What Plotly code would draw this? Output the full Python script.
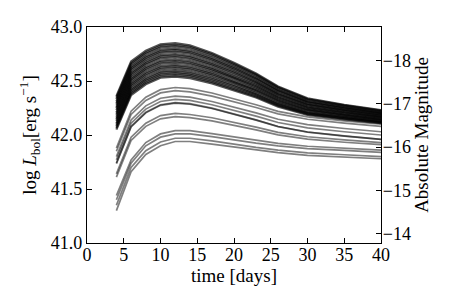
import plotly.graph_objects as go

# time grid [days]
TIME = [4, 6, 8, 10, 12, 14, 17, 20, 23, 26, 30, 35, 40]

# log L_bol light curves, bright (dense) group
BRIGHT = [
    [42.36, 42.68, 42.78, 42.84, 42.85, 42.83, 42.76, 42.67, 42.57, 42.45, 42.34, 42.28, 42.23],
    [42.345, 42.665, 42.765, 42.825, 42.835, 42.817, 42.747, 42.658, 42.56, 42.442, 42.333, 42.274, 42.225],
    [42.33, 42.65, 42.75, 42.81, 42.82, 42.802, 42.733, 42.646, 42.55, 42.433, 42.326, 42.269, 42.22],
    [42.31, 42.63, 42.73, 42.79, 42.80, 42.782, 42.714, 42.629, 42.534, 42.419, 42.314, 42.258, 42.21],
    [42.295, 42.615, 42.715, 42.775, 42.785, 42.768, 42.701, 42.617, 42.524, 42.411, 42.308, 42.252, 42.205],
    [42.28, 42.60, 42.70, 42.76, 42.77, 42.753, 42.687, 42.605, 42.514, 42.402, 42.301, 42.246, 42.20],
    [42.26, 42.58, 42.68, 42.74, 42.75, 42.733, 42.669, 42.588, 42.498, 42.389, 42.289, 42.235, 42.19],
    [42.245, 42.565, 42.665, 42.725, 42.735, 42.719, 42.655, 42.576, 42.488, 42.38, 42.282, 42.23, 42.185],
    [42.23, 42.55, 42.65, 42.71, 42.72, 42.704, 42.642, 42.563, 42.477, 42.372, 42.276, 42.224, 42.18],
    [42.21, 42.53, 42.63, 42.69, 42.70, 42.684, 42.623, 42.546, 42.462, 42.358, 42.264, 42.213, 42.17],
    [42.195, 42.515, 42.615, 42.675, 42.685, 42.669, 42.61, 42.534, 42.451, 42.35, 42.257, 42.207, 42.165],
    [42.18, 42.50, 42.60, 42.66, 42.67, 42.655, 42.596, 42.522, 42.44, 42.341, 42.25, 42.201, 42.16],
    [42.16, 42.48, 42.58, 42.64, 42.65, 42.635, 42.578, 42.505, 42.425, 42.328, 42.239, 42.19, 42.15],
    [42.145, 42.465, 42.565, 42.625, 42.635, 42.62, 42.564, 42.493, 42.415, 42.319, 42.232, 42.185, 42.145],
    [42.13, 42.45, 42.55, 42.61, 42.62, 42.606, 42.55, 42.481, 42.404, 42.31, 42.225, 42.179, 42.14],
    [42.11, 42.43, 42.53, 42.59, 42.60, 42.586, 42.532, 42.464, 42.388, 42.297, 42.213, 42.168, 42.13],
    [42.095, 42.415, 42.515, 42.575, 42.585, 42.571, 42.518, 42.452, 42.378, 42.288, 42.206, 42.162, 42.125],
    [42.08, 42.40, 42.50, 42.56, 42.57, 42.557, 42.505, 42.44, 42.368, 42.28, 42.20, 42.156, 42.12],
    [42.065, 42.385, 42.485, 42.545, 42.555, 42.542, 42.491, 42.427, 42.357, 42.271, 42.193, 42.151, 42.115],
    [42.05, 42.37, 42.47, 42.53, 42.54, 42.527, 42.478, 42.415, 42.347, 42.263, 42.186, 42.145, 42.11],
]

# intermediate group
MIDDLE = [
    [41.88, 42.22, 42.35, 42.42, 42.44, 42.43, 42.389, 42.338, 42.28, 42.219, 42.168, 42.131, 42.10],
    [41.85, 42.19, 42.32, 42.39, 42.41, 42.40, 42.36, 42.311, 42.255, 42.196, 42.146, 42.11, 42.08],
    [41.80, 42.14, 42.27, 42.34, 42.36, 42.35, 42.31, 42.261, 42.205, 42.146, 42.096, 42.06, 42.03],
    [41.77, 42.11, 42.24, 42.31, 42.33, 42.32, 42.28, 42.231, 42.175, 42.116, 42.066, 42.03, 42.00],
    [41.74, 42.08, 42.21, 42.28, 42.30, 42.29, 42.249, 42.198, 42.14, 42.079, 42.028, 41.991, 41.96],
    [41.735, 42.075, 42.205, 42.275, 42.295, 42.285, 42.245, 42.195, 42.138, 42.077, 42.027, 41.99, 41.96],
    [41.64, 41.98, 42.11, 42.18, 42.20, 42.19, 42.16, 42.119, 42.073, 42.025, 41.984, 41.954, 41.93],
    [41.61, 41.95, 42.08, 42.15, 42.17, 42.16, 42.131, 42.092, 42.048, 42.001, 41.962, 41.933, 41.91],
]

# faint group
FAINT = [
    [41.44, 41.77, 41.93, 42.01, 42.04, 42.04, 42.013, 41.981, 41.95, 41.923, 41.896, 41.878, 41.86],
    [41.40, 41.74, 41.90, 41.98, 42.01, 42.01, 41.985, 41.954, 41.925, 41.90, 41.874, 41.857, 41.84],
    [41.35, 41.70, 41.855, 41.935, 41.97, 41.97, 41.945, 41.914, 41.885, 41.86, 41.834, 41.817, 41.80],
    [41.30, 41.66, 41.82, 41.90, 41.94, 41.94, 41.916, 41.887, 41.86, 41.836, 41.812, 41.796, 41.78],
]

X_TICKS = [0, 5, 10, 15, 20, 25, 30, 35, 40]
Y_TICKS = [41.0, 41.5, 42.0, 42.5, 43.0]
MAG_TICKS = [-18, -17, -16, -15, -14]
MAG_ZERO = 88.72  # M = MAG_ZERO - 2.5 log L
Y_RANGE = [41.0, 43.0]

FONT = "Liberation Serif, Times New Roman, serif"

fig = go.Figure()
for curve in FAINT + MIDDLE:
    fig.add_trace(go.Scatter(
        x=TIME, y=curve, mode="lines",
        line=dict(color="rgba(0,0,0,0.5)", width=1.7),
        showlegend=False, hoverinfo="skip"))
for curve in BRIGHT:
    fig.add_trace(go.Scatter(
        x=TIME, y=curve, mode="lines",
        line=dict(color="rgba(0,0,0,0.68)", width=2.2),
        showlegend=False, hoverinfo="skip"))

# empty trace that anchors the magnitude axis
fig.add_trace(go.Scatter(x=[], y=[], yaxis="y2", showlegend=False, hoverinfo="skip"))

mag_range = [MAG_ZERO - 2.5 * Y_RANGE[0], MAG_ZERO - 2.5 * Y_RANGE[1]]

axis_common = dict(
    ticks="inside", ticklen=5, tickwidth=1, tickcolor="black",
    showline=True, linecolor="black", linewidth=1.3,
    showgrid=False, zeroline=False, automargin=False,
    tickfont=dict(size=18),
)

fig.update_layout(
    template="none",
    width=449, height=297,
    margin=dict(l=79, r=76, t=19, b=62),
    paper_bgcolor="white", plot_bgcolor="white",
    font=dict(family=FONT, size=16, color="black"),
    xaxis=dict(
        range=[0, 40], tickvals=X_TICKS, ticktext=[str(v) for v in X_TICKS],
        mirror="ticks", ticklabelstandoff=-5,
        title=dict(text="time [days]", font=dict(size=19), standoff=0),
        **axis_common,
    ),
    yaxis=dict(
        range=Y_RANGE, tickvals=Y_TICKS, ticktext=[f"{v:.1f}" for v in Y_TICKS],
        mirror=True,
        title=dict(text="log <i>L</i><sub>bol</sub>[erg s<sup>−1</sup>]", font=dict(size=19), standoff=9),
        **axis_common,
    ),
    yaxis2=dict(
        overlaying="y", side="right", range=mag_range,
        tickvals=MAG_TICKS, ticktext=["−" + str(abs(v)) for v in MAG_TICKS],
        ticklabelstandoff=-3,
        title=dict(text="Absolute Magnitude", font=dict(size=19), standoff=4),
        **axis_common,
    ),
)

fig.write_html("out.html")
